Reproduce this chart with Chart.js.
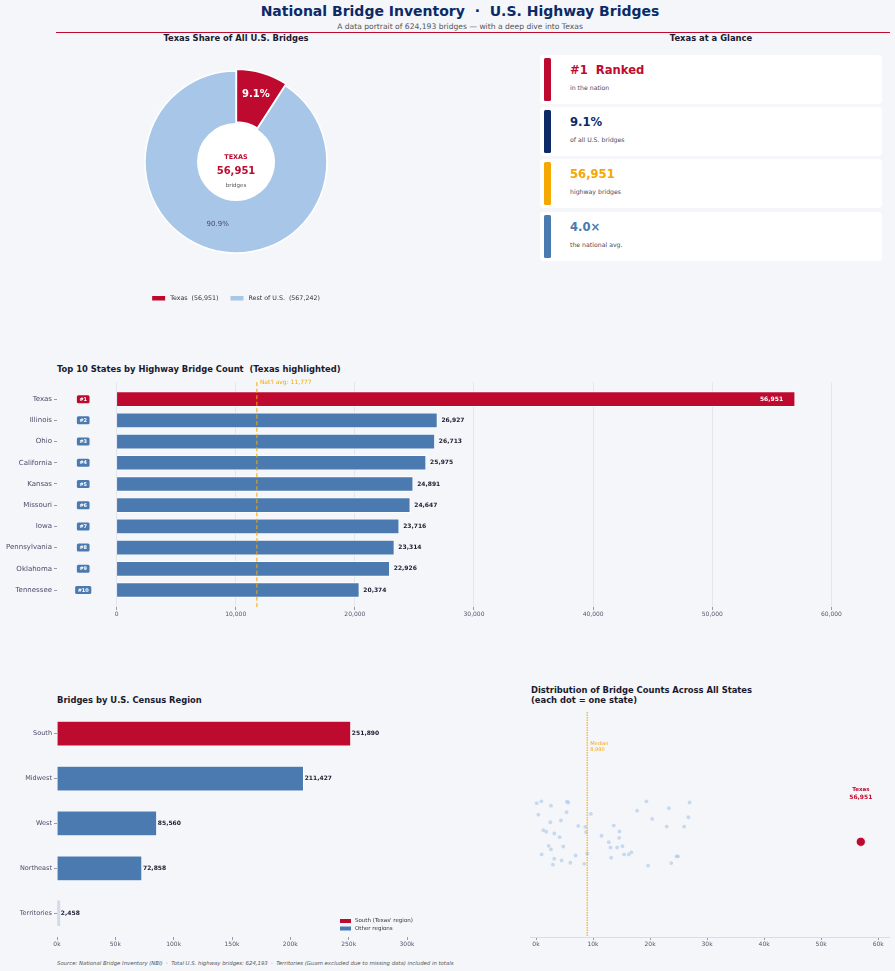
<!DOCTYPE html>
<html>
<head>
<meta charset="utf-8">
<script src="https://cdn.jsdelivr.net/npm/chart.js@4.4.1/dist/chart.umd.min.js"></script>
<style>
  body { margin: 0; background: #f4f6fa; font-family: "DejaVu Sans", sans-serif; width: 895px; height: 971px; position: relative; overflow: hidden; }
  canvas { position: absolute; }
  .t { position: absolute; white-space: nowrap; line-height: 1; transform: translateY(-50%); }
  .c { transform: translate(-50%, -50%); }
  .h2 { font-weight: bold; font-size: 8.4px; color: #1a1a2e; }
  .card { position: absolute; left: 540px; width: 342px; height: 49px; background: #fff; border-radius: 4px; }
  .card .accent { position: absolute; left: 4px; top: 3px; width: 7px; height: 43px; border-radius: 1.5px; }
  .card .big { position: absolute; left: 30px; top: 16px; transform: translateY(-50%); font-weight: bold; font-size: 11.6px; line-height: 1; white-space: pre; }
  .card .note { position: absolute; left: 30px; top: 33px; transform: translateY(-50%); font-size: 6.2px; color: #4a4a60; line-height: 1; }
</style>
</head>
<body>
<div class="t c" style="left:460px;top:11px;font-weight:bold;font-size:14px;color:#0b2a66">National Bridge Inventory &nbsp;·&nbsp; U.S. Highway Bridges</div>
<div class="t c" style="left:460px;top:27px;font-size:7.6px;color:#555">A data portrait of 624,193 bridges — with a deep dive into Texas</div>
<div style="position:absolute;left:56px;top:32px;width:834px;height:1px;background:#BF0A30"></div>
<div class="t c h2" style="left:236px;top:38px">Texas Share of All U.S. Bridges</div>
<div class="t c h2" style="left:711px;top:38px">Texas at a Glance</div>
<div class="t h2" style="left:57px;top:369px">Top 10 States by Highway Bridge Count &nbsp;(Texas highlighted)</div>
<div class="t h2" style="left:57px;top:700px">Bridges by U.S. Census Region</div>
<div class="t h2" style="left:531px;top:690px">Distribution of Bridge Counts Across All States</div>
<div class="t h2" style="left:531px;top:700px">(each dot = one state)</div>
<div class="t" style="left:57px;top:964px;font-size:5.35px;font-style:italic;color:#555">Source: National Bridge Inventory (NBI) &nbsp;·&nbsp; Total U.S. highway bridges: 624,193 &nbsp;·&nbsp; Territories (Guam excluded due to missing data) included in totals</div>

<div id="cards"></div>

<canvas id="donut" width="240" height="266" style="left:116px;top:42px"></canvas>
<canvas id="top10" width="895" height="245" style="left:0;top:376px"></canvas>
<canvas id="regions" width="450" height="247" style="left:0;top:704px"></canvas>
<canvas id="strip" width="375" height="247" style="left:520px;top:704px"></canvas>

<script>
const RED = '#BF0A30', NAVY = '#0b2a66', GOLD = '#F5A800', BLUE = '#4A7AB0', LIGHT = '#A8C6E8', PALE = '#d3dbe8'

// donut
const shareLabels = ['Texas', 'Rest of U.S.']
const shareValues = [56951, 567242]

// glance cards
const cardValues = ['#1  Ranked', '9.1%', '56,951', '4.0×']
const cardNotes = ['in the nation', 'of all U.S. bridges', 'highway bridges', 'the national avg.']
const cardColors = [RED, NAVY, GOLD, BLUE]

// top 10 states
const topStates = ['Texas', 'Illinois', 'Ohio', 'California', 'Kansas', 'Missouri', 'Iowa', 'Pennsylvania', 'Oklahoma', 'Tennessee']
const topCounts = [56951, 26927, 26713, 25975, 24891, 24647, 23716, 23314, 22926, 20374]
const topTicks = [0, 10000, 20000, 30000, 40000, 50000, 60000]
const natAvg = 11777

// census regions
const regions = ['South', 'Midwest', 'West', 'Northeast', 'Territories']
const regionCounts = [251890, 211427, 85560, 72858, 2458]
const regionTicks = [0, 50000, 100000, 150000, 200000, 250000, 300000]
const regionLegend = ["South (Texas' region)", 'Other regions']

// every other state / territory (x = bridges, y = jitter of the dot)
const stateCounts = [120, 930, 410, 2620, 5420, 5660, 5360, 2510, 4370, 1280,
  1810, 3210, 4140, 2220, 2620, 4780, 990, 3200, 2970, 4490,
  6010, 6940, 8450, 7410, 8630, 8750, 8990, 9620, 11490, 12770,
  13060, 13180, 13640, 14640, 14580, 14230, 15160, 15450, 16270, 16730,
  17730, 19360, 20374, 19650, 23314, 22926, 23716, 24647, 24891, 25975,
  26713, 26927]
const stateJitter = [0.223, 0.234, 0.157, 0.209, 0.232, 0.227, 0.171, 0.113, 0.123, 0.067,
  0.058, 0.048, 0.027, -0.023, -0.044, -0.027, -0.073, -0.098, -0.132, -0.108,
  -0.121, -0.079, -0.127, 0.092, 0.086, 0.056, -0.067, 0.161, 0.035, -0.002,
  -0.033, -0.092, 0.094, 0.060, 0.023, -0.033, -0.025, -0.073, -0.073, -0.061,
  0.180, 0.234, 0.132, -0.138, 0.194, 0.088, -0.123, -0.084, -0.084, 0.088,
  0.142, 0.227]
const texasCount = 56951
const medianCount = 8990
const stripTicks = [0, 10000, 20000, 30000, 40000, 50000, 60000]

const fmt = v => v.toLocaleString('en-US')
const FONT = '"DejaVu Sans"'
Chart.defaults.font.family = 'DejaVu Sans'
Chart.defaults.animation = false
Chart.defaults.responsive = false
Chart.defaults.plugins.legend.display = false
Chart.defaults.plugins.tooltip.enabled = false

// cards
const cardBox = document.getElementById('cards')
const cardTops = [55, 107, 159, 212]
cardValues.forEach((val, i) => {
  const card = document.createElement('div')
  card.className = 'card'
  card.style.top = cardTops[i] + 'px'
  card.innerHTML = `<div class="accent" style="background:${cardColors[i]}"></div>` +
    `<div class="big" style="color:${cardColors[i]}">${val}</div>` +
    `<div class="note">${cardNotes[i]}</div>`
  cardBox.appendChild(card)
})

// donut ------------------------------------------------------------
const donutText = {
  id: 'donutText',
  afterDatasetsDraw(chart) {
    const {ctx, chartArea} = chart
    const arcs = chart.getDatasetMeta(0).data
    const cx = arcs[1].x, cy = arcs[1].y
    const inner = arcs[1].innerRadius, outer = arcs[1].outerRadius
    const total = shareValues.reduce((a, b) => a + b, 0)
    ctx.save()
    ctx.fillStyle = '#fff'
    ctx.beginPath(); ctx.arc(cx, cy, inner, 0, Math.PI * 2); ctx.fill()
    ctx.textAlign = 'center'; ctx.textBaseline = 'middle'
    arcs.forEach((arc, i) => {
      const mid = (arc.startAngle + arc.endAngle) / 2
      const r = (inner + outer) / 2 + (i === 0 ? 6 : 0)
      const pct = (shareValues[i] / total * 100).toFixed(1) + '%'
      ctx.font = i === 0 ? `bold 10px ${FONT}` : `7px ${FONT}`
      ctx.fillStyle = i === 0 ? '#fff' : '#4a4a68'
      ctx.fillText(pct, cx + Math.cos(mid) * r, cy + Math.sin(mid) * r)
    })
    ctx.fillStyle = RED
    ctx.font = `bold 6.5px ${FONT}`; ctx.fillText('TEXAS', cx, cy - 5)
    ctx.font = `bold 10px ${FONT}`; ctx.fillText(fmt(shareValues[0]), cx, cy + 9)
    ctx.fillStyle = '#555'
    ctx.font = `5.5px ${FONT}`; ctx.fillText('bridges', cx, cy + 24)
    // legend
    ctx.font = `6.3px ${FONT}`
    const items = shareLabels.map((l, i) => `${l}  (${fmt(shareValues[i])})`)
    const widths = items.map(s => 13 + 5 + ctx.measureText(s).width)
    const gap = 12
    let x = cx - (widths[0] + widths[1] + gap) / 2
    const ly = chartArea.bottom + 16
    ctx.textAlign = 'left'
    items.forEach((s, i) => {
      ctx.fillStyle = i === 0 ? RED : LIGHT
      ctx.fillRect(x, ly - 2, 13, 4.5)
      ctx.fillStyle = '#333'
      ctx.fillText(s, x + 18, ly)
      x += widths[i] + gap
    })
    ctx.restore()
  }
}

new Chart(document.getElementById('donut'), {
  type: 'doughnut',
  data: {
    labels: shareLabels,
    datasets: [{
      data: shareValues,
      backgroundColor: [RED, LIGHT],
      borderColor: '#fff',
      borderWidth: 1.5,
      offset: [5, 0]
    }]
  },
  options: {
    radius: 91,
    cutout: '42%',
    layout: {padding: {bottom: 26}}
  },
  plugins: [donutText]
})

// top 10 -----------------------------------------------------------
const top10Labels = {
  id: 'top10Labels',
  afterDatasetsDraw(chart) {
    const {ctx, chartArea, scales: {x, y}} = chart
    const ax = x.getPixelForValue(natAvg)
    ctx.save()
    ctx.strokeStyle = GOLD; ctx.lineWidth = 1; ctx.setLineDash([4, 2.5])
    ctx.beginPath(); ctx.moveTo(ax, chartArea.top); ctx.lineTo(ax, chartArea.bottom); ctx.stroke()
    ctx.setLineDash([])
    ctx.textBaseline = 'middle'
    ctx.fillStyle = GOLD; ctx.font = `6px ${FONT}`; ctx.textAlign = 'left'
    ctx.fillText(`Nat'l avg: ${fmt(natAvg)}`, ax + 3, chartArea.top)
    topCounts.forEach((v, i) => {
      const yy = y.getPixelForValue(i)
      const end = x.getPixelForValue(v)
      ctx.font = `bold 6px ${FONT}`
      if (i === 0) {
        ctx.fillStyle = '#fff'; ctx.textAlign = 'right'
        ctx.fillText(fmt(v), end - 12, yy)
      } else {
        ctx.fillStyle = '#1a1a2e'; ctx.textAlign = 'left'
        ctx.fillText(fmt(v), end + 4, yy)
      }
      const bx = x.getPixelForValue(-2800)
      const tag = '#' + (i + 1)
      ctx.font = `bold 5px ${FONT}`
      const w = ctx.measureText(tag).width + 5
      ctx.fillStyle = i === 0 ? RED : BLUE
      ctx.beginPath(); ctx.roundRect(bx - w / 2, yy - 4, w, 8, 1.5); ctx.fill()
      ctx.fillStyle = '#fff'; ctx.textAlign = 'center'
      ctx.fillText(tag, bx, yy + 0.3)
    })
    ctx.restore()
  }
}

new Chart(document.getElementById('top10'), {
  type: 'bar',
  data: {
    datasets: [{
      data: topCounts.map((v, i) => ({x: v, y: i})),
      backgroundColor: topCounts.map((v, i) => i === 0 ? RED : BLUE),
      borderColor: 'rgba(255,255,255,0.75)',
      borderWidth: 1,
      barThickness: 15
    }]
  },
  options: {
    indexAxis: 'y',
    layout: {padding: {top: 5, right: 32}},
    scales: {
      x: {
        type: 'linear', min: -5000, max: 62650,
        afterBuildTicks: s => { s.ticks = topTicks.map(v => ({value: v})) },
        afterFit: s => { s.height = 14 },
        ticks: {callback: v => fmt(v), font: {size: 6}, color: '#55556e', padding: 1, maxRotation: 0},
        grid: {color: '#e3e6ee', tickColor: '#9a9aaa', tickLength: 3},
        border: {display: false}
      },
      y: {
        type: 'linear', reverse: true, min: -0.8, max: 9.8, offset: false,
        afterBuildTicks: s => { s.ticks = topStates.map((n, i) => ({value: i})) },
        afterFit: s => { s.width = 57 },
        ticks: {callback: v => topStates[v], font: {size: 7}, color: '#4a4a68', padding: 2, autoSkip: false},
        grid: {offset: false, drawOnChartArea: false, tickColor: '#9a9aaa', tickLength: 3},
        border: {display: false}
      }
    }
  },
  plugins: [top10Labels]
})

// regions ----------------------------------------------------------
const regionLabels = {
  id: 'regionLabels',
  afterDatasetsDraw(chart) {
    const {ctx, chartArea, scales: {x, y}} = chart
    ctx.save()
    ctx.textBaseline = 'middle'; ctx.textAlign = 'left'
    ctx.font = `bold 6px ${FONT}`; ctx.fillStyle = '#1a1a2e'
    regionCounts.forEach((v, i) => ctx.fillText(fmt(v), x.getPixelForValue(v) + 1, y.getPixelForValue(i)))
    ctx.font = `5.5px ${FONT}`
    regionLegend.forEach((s, i) => {
      const lx = chartArea.right - 84.5, ly = chartArea.bottom - 16 + i * 7.5
      ctx.fillStyle = i === 0 ? RED : BLUE
      ctx.fillRect(lx, ly - 2, 11, 4)
      ctx.fillStyle = '#333'
      ctx.fillText(s, lx + 15, ly)
    })
    ctx.restore()
  }
}

new Chart(document.getElementById('regions'), {
  type: 'bar',
  data: {
    datasets: [{
      data: regionCounts.map((v, i) => ({x: v, y: i})),
      backgroundColor: regions.map((r, i) => i === 0 ? RED : r === 'Territories' ? PALE : BLUE),
      borderColor: 'rgba(255,255,255,0.75)',
      borderWidth: regions.map(r => r === 'Territories' ? 0 : 1),
      barThickness: 25
    }]
  },
  options: {
    indexAxis: 'y',
    layout: {padding: {top: 5, right: 25.5}},
    scales: {
      x: {
        type: 'linear', min: 0, max: 315000,
        afterBuildTicks: s => { s.ticks = regionTicks.map(v => ({value: v})) },
        afterFit: s => { s.height = 14 },
        ticks: {callback: v => (v / 1000) + 'k', font: {size: 6}, color: '#55556e', padding: 1, maxRotation: 0},
        grid: {drawOnChartArea: false, tickColor: '#9a9aaa', tickLength: 3},
        border: {display: false}
      },
      y: {
        type: 'linear', reverse: true, min: -0.53, max: 4.53, offset: false,
        afterBuildTicks: s => { s.ticks = regions.map((n, i) => ({value: i})) },
        afterFit: s => { s.width = 57 },
        ticks: {callback: v => regions[v], font: {size: 6.5}, color: '#4a4a68', padding: 2, autoSkip: false},
        grid: {offset: false, drawOnChartArea: false, tickColor: '#9a9aaa', tickLength: 3},
        border: {display: false}
      }
    }
  },
  plugins: [regionLabels]
})

// strip ------------------------------------------------------------
const stripNotes = {
  id: 'stripNotes',
  afterDatasetsDraw(chart) {
    const {ctx, chartArea, scales: {x, y}} = chart
    const mx = x.getPixelForValue(medianCount)
    ctx.save()
    ctx.strokeStyle = 'rgba(245,168,0,0.75)'; ctx.lineWidth = 1.5; ctx.setLineDash([1.5, 1])
    ctx.beginPath(); ctx.moveTo(mx, chartArea.top); ctx.lineTo(mx, chartArea.bottom); ctx.stroke()
    ctx.setLineDash([])
    ctx.textBaseline = 'middle'; ctx.textAlign = 'left'
    ctx.fillStyle = GOLD; ctx.font = `5px ${FONT}`
    ctx.fillText('Median', mx + 3, chartArea.top + 32)
    ctx.fillText(fmt(medianCount), mx + 3, chartArea.top + 38)
    const tx = x.getPixelForValue(texasCount), ty = y.getPixelForValue(0)
    ctx.textAlign = 'center'; ctx.fillStyle = RED
    ctx.font = `bold 5.5px ${FONT}`; ctx.fillText('Texas', tx, ty - 52)
    ctx.font = `bold 6px ${FONT}`; ctx.fillText(fmt(texasCount), tx, ty - 44)
    ctx.restore()
  }
}

new Chart(document.getElementById('strip'), {
  type: 'scatter',
  data: {
    datasets: [{
      data: stateCounts.map((v, i) => ({x: v, y: stateJitter[i]})),
      backgroundColor: 'rgba(168,198,232,0.6)',
      borderWidth: 0,
      pointRadius: 1.9
    }, {
      data: [{x: texasCount, y: 0}],
      backgroundColor: RED,
      borderColor: '#fff',
      borderWidth: 0.8,
      pointRadius: 4.6
    }]
  },
  options: {
    layout: {padding: {top: 8, left: 10.3, right: 4.6}},
    scales: {
      x: {
        type: 'linear', min: -1000, max: 62000,
        afterBuildTicks: s => { s.ticks = stripTicks.map(v => ({value: v})) },
        afterFit: s => { s.height = 14 },
        ticks: {callback: v => (v / 1000) + 'k', font: {size: 6}, color: '#55556e', padding: 1, maxRotation: 0},
        grid: {drawOnChartArea: false, tickColor: '#9a9aaa', tickLength: 3},
        border: {display: true, color: '#d8dce5'}
      },
      y: {type: 'linear', min: -0.55, max: 0.75, display: false}
    }
  },
  plugins: [stripNotes]
})
</script>
</body>
</html>
